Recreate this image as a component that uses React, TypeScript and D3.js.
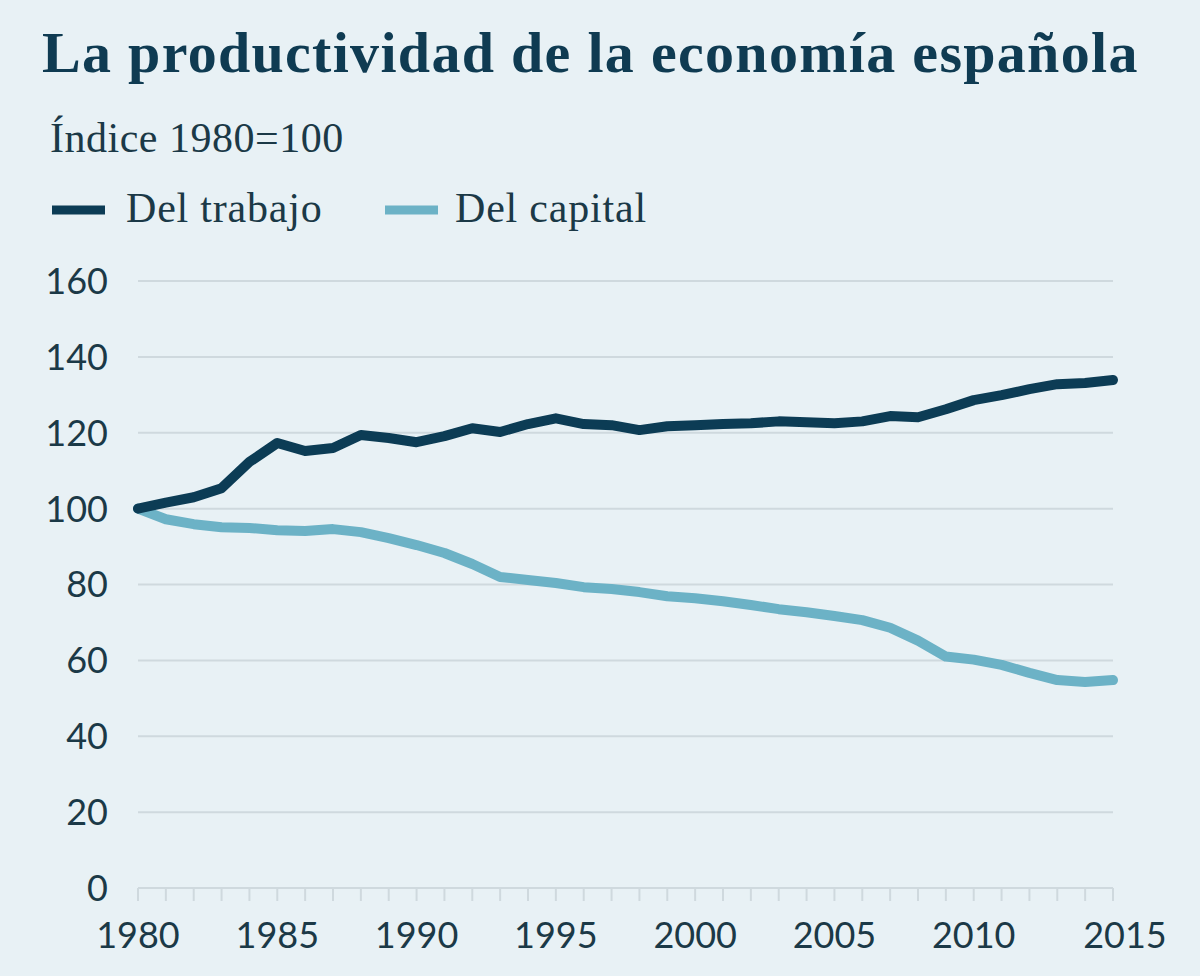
import React, { useEffect, useRef } from "react";
import * as d3 from "d3";

const years: number[] = d3.range(1980, 2016);
const trabajo: number[] = [
  100, 101.6, 103, 105.4, 112.3, 117.3, 115.2, 116, 119.4, 118.6,
  117.5, 119.1, 121.2, 120.2, 122.3, 123.8, 122.3, 122, 120.7, 121.7,
  122, 122.3, 122.5, 123, 122.8, 122.5, 123, 124.4, 124.1, 126.2,
  128.6, 129.9, 131.5, 132.8, 133.1, 133.9,
];
const capital: number[] = [
  100, 97.2, 95.9, 95.1, 94.9, 94.3, 94.1, 94.6, 93.8, 92.2,
  90.4, 88.3, 85.4, 82, 81.2, 80.4, 79.3, 78.8, 78, 76.9,
  76.4, 75.6, 74.6, 73.5, 72.7, 71.7, 70.6, 68.6, 65.2, 61,
  60.2, 58.8, 56.7, 54.8, 54.3, 54.8,
];
const yTicks: number[] = [0, 20, 40, 60, 80, 100, 120, 140, 160];
const xTickLabels: number[] = [1980, 1985, 1990, 1995, 2000, 2005, 2010, 2015];
const seriesNames: string[] = ["Del trabajo", "Del capital"];

const W = 1200;
const H = 976;
const BG = "#e8f1f5";
const DARK = "#0c3c55";
const LIGHT = "#6cb2c6";
const TEXT = "#1b3947";
const GRID = "#cfd9de";
const SERIF = "'Liberation Serif', 'DejaVu Serif', serif";

export default function App() {
  const ref = useRef<SVGSVGElement | null>(null);

  useEffect(() => {
    document.body.style.margin = "0";
    const svg = d3.select(ref.current);
    svg.selectAll("*").remove();

    svg.append("rect").attr("width", W).attr("height", H).attr("fill", BG);

    const x = d3.scaleLinear().domain([1980, 2015]).range([138, 1113]);
    const y = d3.scaleLinear().domain([0, 160]).range([888, 281]);

    // Title
    svg.append("text")
      .attr("x", 42).attr("y", 72)
      .attr("font-family", SERIF)
      .attr("font-weight", 700)
      .attr("font-size", 58)
      .attr("letter-spacing", 1.3)
      .attr("fill", "#0f3b52")
      .text("La productividad de la economía española");

    // Subtitle
    svg.append("text")
      .attr("x", 50).attr("y", 152)
      .attr("font-family", SERIF)
      .attr("font-size", 42)
      .attr("letter-spacing", 0.5)
      .attr("fill", TEXT)
      .text("Índice 1980=100");

    // Legend
    const legendItems = [
      { name: seriesNames[0], color: DARK, x: 52 },
      { name: seriesNames[1], color: LIGHT, x: 385 },
    ];
    legendItems.forEach((d, i) => {
      svg.append("line")
        .attr("x1", d.x).attr("x2", d.x + 53)
        .attr("y1", 210).attr("y2", 210)
        .attr("stroke", d.color).attr("stroke-width", 9);
      svg.append("text")
        .attr("x", d.x + (i === 0 ? 74 : 70)).attr("y", 222)
        .attr("font-family", SERIF)
        .attr("font-size", 42)
        .attr("letter-spacing", 0.8)
        .attr("fill", TEXT)
        .text(d.name);
    });

    // Gridlines
    svg.append("g")
      .selectAll("line")
      .data(yTicks)
      .join("line")
      .attr("x1", x(1980)).attr("x2", x(2015))
      .attr("y1", (d) => y(d)).attr("y2", (d) => y(d))
      .attr("stroke", GRID).attr("stroke-width", 2);

    // Y labels
    svg.append("g")
      .selectAll("text")
      .data(yTicks)
      .join("text")
      .attr("x", 108)
      .attr("y", (d) => y(d))
      .attr("dy", "0.36em")
      .attr("text-anchor", "end")
      .attr("font-family", "Lato, 'Noto Sans', sans-serif")
      .attr("font-size", 36)
      .attr("fill", TEXT)
      .text((d) => String(d));

    // X minor ticks
    svg.append("g")
      .selectAll("line")
      .data(years)
      .join("line")
      .attr("x1", (d) => x(d)).attr("x2", (d) => x(d))
      .attr("y1", y(0)).attr("y2", y(0) + 13)
      .attr("stroke", GRID).attr("stroke-width", 2);

    // X labels
    svg.append("g")
      .selectAll("text")
      .data(xTickLabels)
      .join("text")
      .attr("x", (d) => x(d) + (d === 2015 ? 12 : 0))
      .attr("y", 948)
      .attr("text-anchor", "middle")
      .attr("font-family", "Lato, 'Noto Sans', sans-serif")
      .attr("font-size", 36)
      .attr("fill", TEXT)
      .text((d) => String(d));

    const line = d3.line<number>()
      .x((_, i) => x(years[i]))
      .y((d) => y(d));

    svg.append("path")
      .datum(capital)
      .attr("d", line)
      .attr("fill", "none")
      .attr("stroke", LIGHT)
      .attr("stroke-width", 10)
      .attr("stroke-linejoin", "round")
      .attr("stroke-linecap", "round");

    svg.append("path")
      .datum(trabajo)
      .attr("d", line)
      .attr("fill", "none")
      .attr("stroke", DARK)
      .attr("stroke-width", 10)
      .attr("stroke-linejoin", "round")
      .attr("stroke-linecap", "round");
  }, []);

  return <svg ref={ref} width={W} height={H} style={{ display: "block" }} />;
}
